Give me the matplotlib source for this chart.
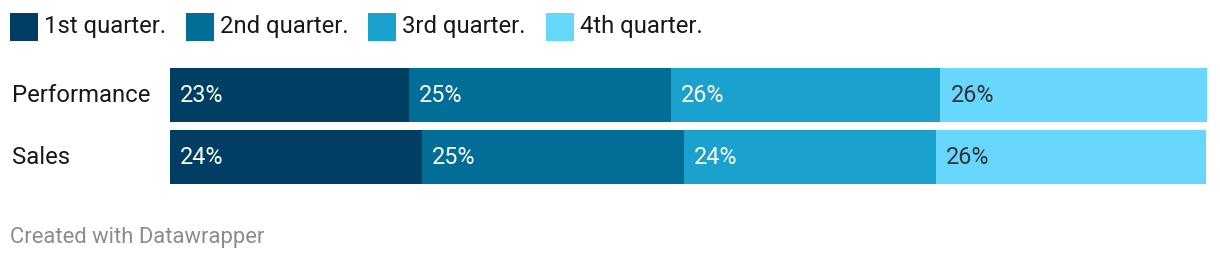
import matplotlib
matplotlib.use("Agg")
import matplotlib.pyplot as plt
from matplotlib.patches import Rectangle

categories = ["Performance", "Sales"]
series_names = ["1st quarter.", "2nd quarter.", "3rd quarter.", "4th quarter."]
performance = [23.0, 25.3, 26.0, 25.7]
sales = [24.3, 25.3, 24.3, 26.0]
values = [performance, sales]
colors = ["#003f64", "#016e97", "#1aa1cd", "#67d7fe"]
label_colors = ["white", "white", "white", "#333333"]

W, H = 1220, 262
fig = plt.figure(figsize=(W / 100, H / 100), dpi=100)
fig.patch.set_facecolor("white")
plt.rcParams["font.family"] = ["Roboto", "DejaVu Sans"]

# axes in pixel geometry
left, right, top, bottom = 170, 1207, 68, 184
ax = fig.add_axes([left / W, (H - bottom) / H, (right - left) / W, (bottom - top) / H])
bar_h = 54 / 62
ax.set_xlim(0, 100)
ax.set_ylim(1 + bar_h / 2, -bar_h / 2)
ax.axis("off")

fs = 17.2
trans = matplotlib.transforms.blended_transform_factory(fig.transFigure, ax.transData)
for i, cat in enumerate(categories):
    start = 0
    for j, v in enumerate(values[i]):
        ax.barh(i, v, left=start, height=bar_h, color=colors[j], linewidth=0)
        ax.annotate(f"{round(v)}%", xy=(start, i), xytext=(10, 0), textcoords="offset pixels",
                    ha="left", va="center", color=label_colors[j], fontsize=16.8)
        start += v
    fig.text(12 / W, i, cat, fontsize=fs, color="#181818", ha="left", va="center", transform=trans)

# legend
leg_x = [10, 186, 368, 546]
for x, name, c in zip(leg_x, series_names, colors):
    fig.patches.append(Rectangle((x / W, (H - 41) / H), 28 / W, 28 / H, transform=fig.transFigure,
                                 facecolor=c, edgecolor="none"))
    fig.text((x + 34) / W, (H - 27) / H, name, fontsize=fs, color="#181818", ha="left", va="center")

fig.text(10 / W, (H - 237) / H, "Created with Datawrapper", fontsize=15.8, color="#8c8c8c",
         ha="left", va="center")

fig.savefig("out.png", dpi=100, facecolor="white")
